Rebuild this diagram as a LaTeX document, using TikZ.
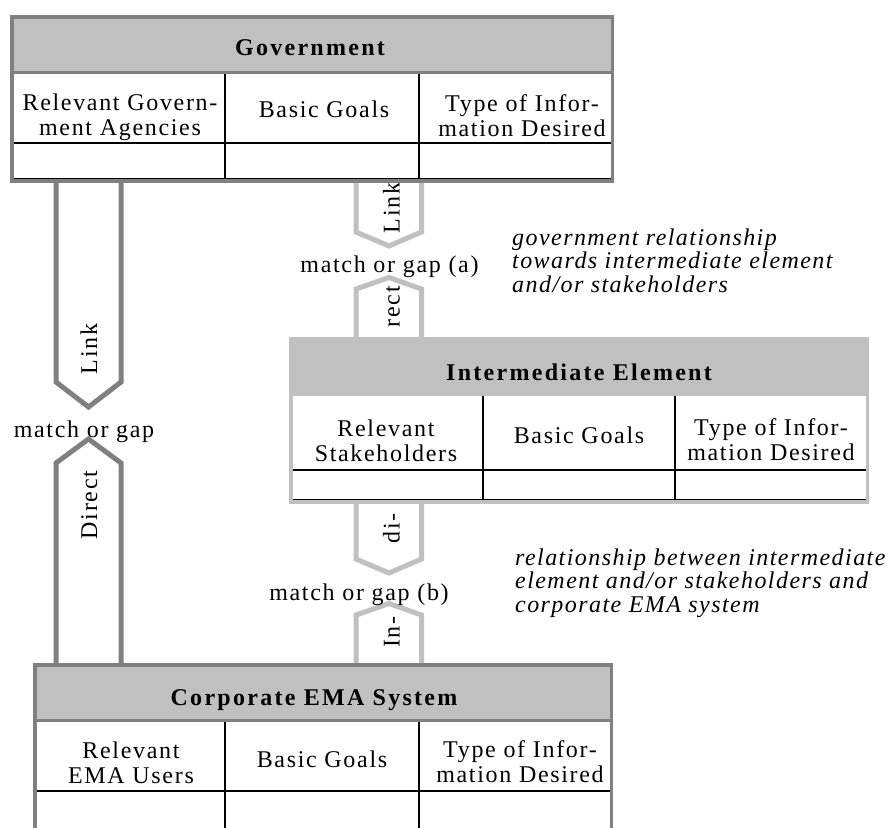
\documentclass[tikz,border=0pt]{standalone}
\usepackage{fontspec}
\setmainfont{Liberation Serif}[LetterSpace=7]
\newfontfamily\hdfont{Liberation Serif}[LetterSpace=9.5]
\newfontfamily\itfont{Liberation Serif}[LetterSpace=6]
\definecolor{dkgray}{HTML}{808080}
\definecolor{ltgray}{HTML}{C0C0C0}
\begin{document}
\begin{tikzpicture}[x=1pt,y=-1pt,
  txt/.style={inner sep=0pt, font=\fontsize{24}{25}\selectfont, align=center},
  hdr/.style={inner sep=0pt, font=\hdfont\bfseries\fontsize{24}{25}\selectfont, anchor=base},
  note/.style={inner sep=0pt, font=\itfont\itshape\fontsize{24}{24}\selectfont, anchor=base west},
  rlab/.style={inner sep=0pt, font=\fontsize{24}{25}\selectfont, rotate=90, anchor=base},
  darkarrow/.style={draw=dkgray, line width=5, fill=white, line join=miter},
  lightarrow/.style={draw=ltgray, line width=5, fill=white, line join=miter},
  blk/.style={black, line width=1.8},
  dkframe/.style={draw=dkgray, line width=3.5},
  ltframe/.style={draw=ltgray, line width=3.5},
]
\useasboundingbox (0,0) rectangle (891,827);
\clip (0,0) rectangle (891,827);
\fill[white] (0,0) rectangle (891,827);

% ---------- block arrows ----------
\draw[darkarrow] (56,181) -- (56,382) -- (88.5,407) -- (121,382) -- (121,181);
\draw[darkarrow] (56,665) -- (56,463) -- (88.5,439) -- (121,463) -- (121,665);
\draw[lightarrow] (356,181) -- (356,232) -- (389,246) -- (421.5,232) -- (421.5,181);
\draw[lightarrow] (356,339) -- (356,289) -- (389,277.5) -- (421.5,289) -- (421.5,339);
\draw[lightarrow] (356,501) -- (356,559) -- (389,573) -- (421.5,559) -- (421.5,501);
\draw[lightarrow] (356,665) -- (356,615) -- (389,603.5) -- (421.5,615) -- (421.5,665);

\node[rlab] (lkL) at (97,349) {Link};
\node[rlab] (drL) at (97,505) {Direct};
\node[rlab] (lkR) at (399.5,208) {Link};
\node[rlab] (rcR) at (399.5,306.5) {rect};
\node[rlab] (diR) at (399.5,528) {di-};
\node[rlab] (inR) at (399.5,632) {In-};

% ---------- Government ----------
\fill[ltgray] (10,15) rectangle (614,72);
\draw[dkgray, line width=3] (11,72) -- (613,72);
\draw[blk] (12,143) -- (612,143);
\draw[blk] (12,179) -- (612,179);
\draw[blk] (225,73.5) -- (225,179);
\draw[blk] (419,73.5) -- (419,179);
\draw[dkframe] (11.75,16.75) rectangle (612.25,180.75);
\node[hdr] (govT) at (310,55) {Government};
\node[txt] (gov1) at (120,117) {Relevant Govern-\\ment Agencies};
\node[txt, anchor=base] (gov2) at (324,117) {Basic Goals};
\node[txt] (gov3) at (522,116) {Type of Infor-\\mation Desired};

% ---------- Intermediate Element ----------
\fill[ltgray] (289,337) rectangle (869,396);
\draw[blk] (291,470) -- (867,470);
\draw[blk] (291,500) -- (867,500);
\draw[blk] (483,396) -- (483,500);
\draw[blk] (675,396) -- (675,500);
\draw[ltframe] (290.75,338.75) rectangle (867.25,501.75);
\node[hdr] (intT) at (579,380) {Intermediate Element};
\node[txt] (int1) at (386,441) {Relevant\\Stakeholders};
\node[txt, anchor=base] (int2) at (579,443) {Basic Goals};
\node[txt] (int3) at (771,440) {Type of Infor-\\mation Desired};

% ---------- Corporate EMA System ----------
\fill[ltgray] (33,663) rectangle (613,720);
\draw[dkgray, line width=3] (34,720) -- (612,720);
\draw[blk] (35,791) -- (611,791);
\draw[blk] (225,721.5) -- (225,840);
\draw[blk] (419,721.5) -- (419,840);
\draw[dkframe] (34.75,664.75) rectangle (611.5,850);
\node[hdr] (corT) at (314,705) {Corporate EMA System};
\node[txt] (cor1) at (131,763) {Relevant\\EMA Users};
\node[txt, anchor=base] (cor2) at (322,767) {Basic Goals};
\node[txt] (cor3) at (520,762) {Type of Infor-\\mation Desired};

% ---------- labels ----------
\node[txt, anchor=base] (mgL) at (84,437) {match or gap};
\node[txt, anchor=base] (mgA) at (389.5,272) {match or gap (a)};
\node[txt, anchor=base] (mgB) at (359,600) {match or gap (b)};

\node[note] (na1) at (512,245) {government relationship};
\node[note] (na2) at (512,268.5) {towards intermediate element};
\node[note] (na3) at (512,292) {and/or stakeholders};
\node[note] (nb1) at (515,565) {relationship between intermediate};
\node[note] (nb2) at (515,588.5) {element and/or stakeholders and};
\node[note] (nb3) at (515,612) {corporate EMA system};
\end{tikzpicture}
\end{document}
